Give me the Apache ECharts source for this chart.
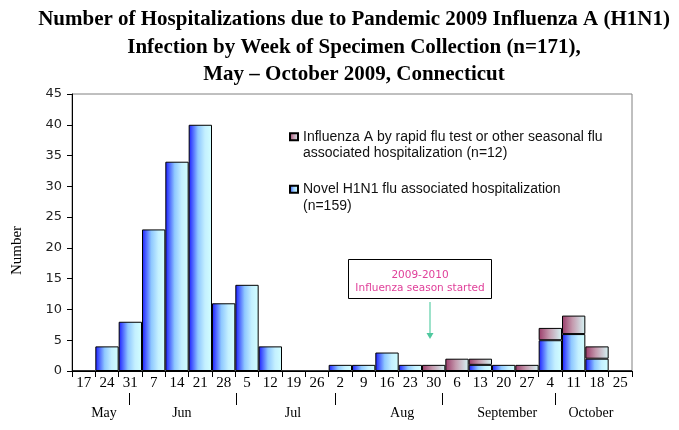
<!DOCTYPE html>
<html>
<head>
<meta charset="utf-8">
<script src="https://cdn.jsdelivr.net/npm/echarts@6/dist/echarts.min.js"></script>
<style>
html,body{margin:0;padding:0;background:#fff;}
#chart{width:679px;height:430px;}
</style>
</head>
<body>
<div id="chart"></div>
<script>
// ---- data ----
var weekDays = ['17','24','31','7','14','21','28','5','12','19','26','2','9','16','23','30','6','13','20','27','4','11','18','25'];
var novelH1N1 = [0,4,8,23,34,40,11,14,4,0,0,1,1,3,1,0,0,1,1,0,5,6,2,0];
var rapidFluA = [0,0,0,0,0,0,0,0,0,0,0,0,0,0,0,1,2,1,0,1,2,3,2,0];
var monthNames = ['May','Jun','Jul','Aug','September','October'];
var yTicks = [0,5,10,15,20,25,30,35,40,45];
var seriesNames = ['Influenza A by rapid flu test or other seasonal flu\nassociated hospitalization (n=12)',
                   'Novel H1N1 flu associated hospitalization\n(n=159)'];
var titleText = 'Number of Hospitalizations due to Pandemic 2009 Influenza A (H1N1)\nInfection by Week of Specimen Collection (n=171),\nMay \u2013 October 2009, Connecticut';
var noteText = '2009-2010\nInfluenza season started';

// ---- layout (positions in week units along the x axis) ----
var monthLabelPos = [1.37, 4.71, 9.47, 14.15, 18.65, 22.24];
var monthSepPos = [2.44, 7.03, 11.27, 15.86, 20.7];

var chart = echarts.init(document.getElementById('chart'));

var blueGrad = new echarts.graphic.LinearGradient(0,0,1,0,[
  {offset:0,color:'#1a1aff'},{offset:0.4,color:'#8fc8ff'},{offset:0.7,color:'#c4f0ff'},{offset:1,color:'#d2ffff'}]);
var plumGrad = new echarts.graphic.LinearGradient(0,0,1,0,[
  {offset:0,color:'#9a3a68'},{offset:0.45,color:'#c49aae'},{offset:1,color:'#d6f6f6'}]);

chart.setOption({
  animation:false,
  backgroundColor:'#fff',
  title:{
    text:titleText,
    left:349, top:1, textAlign:'center',
    textStyle:{fontFamily:'Liberation Serif',fontWeight:'bold',fontSize:21,lineHeight:27.5,color:'#000'}
  },
  legend:{
    orient:'vertical', left:284, top:107, itemWidth:8, itemHeight:7, itemGap:3, icon:'rect',
    data:[seriesNames[0], seriesNames[1]],
    formatter:function(name){return '\n'+name;},
    textStyle:{fontFamily:'Liberation Sans',fontSize:14,lineHeight:16.5,color:'#111'}
  },
  grid:{left:72,right:47,top:94,bottom:59,show:true,borderColor:'#808080',borderWidth:1,backgroundColor:'transparent'},
  xAxis:[{
    type:'category', data:weekDays, boundaryGap:true,
    axisLine:{lineStyle:{color:'#000',width:1}},
    axisTick:{show:true,interval:0,length:6,lineStyle:{color:'#000'}},
    axisLabel:{interval:0,margin:5,fontFamily:'Liberation Serif',fontSize:15,color:'#000'}
  },{
    type:'value', min:0, max:weekDays.length, position:'bottom', offset:22,
    axisLine:{show:false},
    splitLine:{show:false},
    axisTick:{show:true,length:12,inside:false,lineStyle:{color:'#000'},customValues:monthSepPos},
    axisLabel:{show:true,margin:13,fontFamily:'Liberation Serif',fontSize:14,color:'#000',
      customValues:monthLabelPos,
      formatter:function(v){var i=monthLabelPos.indexOf(v);return i>=0?monthNames[i]:'';}}
  }],
  yAxis:{
    type:'value', min:0, max:45, interval:5,
    name:'Number', nameLocation:'middle', nameGap:47, nameRotate:90,
    nameTextStyle:{fontFamily:'Liberation Serif',fontSize:15,color:'#000',padding:[0,36,0,0]},
    axisLine:{show:true,lineStyle:{color:'#000'}},
    axisTick:{show:true,length:5,lineStyle:{color:'#000'}},
    axisLabel:{margin:10,fontFamily:'DejaVu Sans',fontSize:13,color:'#222',
      formatter:function(v){return yTicks.indexOf(v)>=0?String(v):'';}},
    splitLine:{show:false}
  },
  series:[{
    name:seriesNames[1], type:'bar', stack:'total', xAxisIndex:0,
    data:novelH1N1, barCategoryGap:'0%',
    itemStyle:{color:blueGrad,borderColor:'#000',borderWidth:1}
  },{
    name:seriesNames[0], type:'bar', stack:'total', xAxisIndex:0,
    data:rapidFluA.map(function(v){return v===0?'-':v;}), barCategoryGap:'0%',
    itemStyle:{color:plumGrad,borderColor:'#000',borderWidth:1}
  }],
  graphic:[
    {type:'rect',shape:{x:348.5,y:259.5,width:143,height:39},style:{fill:'#fff',stroke:'#000',lineWidth:1}},
    {type:'text',x:420,y:268.5,style:{text:noteText,align:'center',fontFamily:'DejaVu Sans',fontSize:10.5,lineHeight:13.5,fill:'#e0409a'}},
    {type:'line',shape:{x1:430,y1:302,x2:430,y2:334},style:{stroke:'#7dd8b8',lineWidth:1.5}},
    {type:'polygon',shape:{points:[[426.5,333],[433.5,333],[430,339]]},style:{fill:'#4fc89e'}}
  ]
});
</script>
</body>
</html>
